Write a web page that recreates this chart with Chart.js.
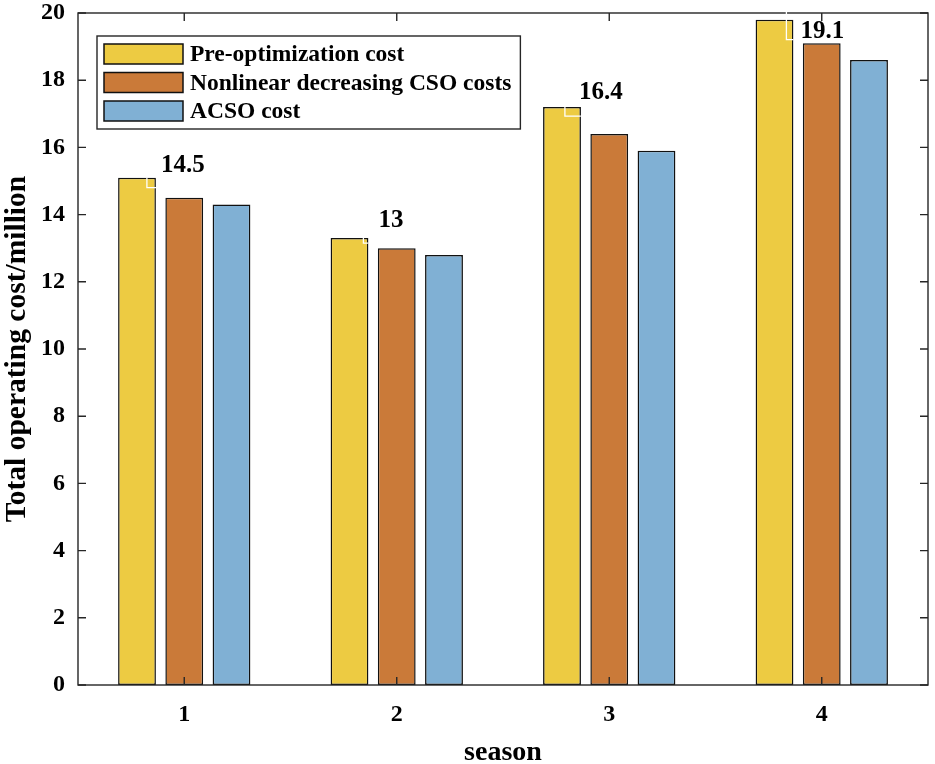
<!DOCTYPE html>
<html>
<head>
<meta charset="utf-8">
<script src="https://cdn.jsdelivr.net/npm/chart.js@4.4.1/dist/chart.umd.min.js"></script>
<style>
  html, body { margin: 0; padding: 0; background: #ffffff; }
  #wrap { width: 935px; height: 764px; position: relative; }
</style>
</head>
<body>
<div id="wrap"><canvas id="c" width="935" height="764"></canvas></div>
<script>
// ---- data ----
const categories = ['1', '2', '3', '4'];
const seriesNames = ['Pre-optimization cost', 'Nonlinear decreasing CSO costs', 'ACSO cost'];
const preCost  = [15.1, 13.3, 17.2, 19.8];
const nldCost  = [14.5, 13.0, 16.4, 19.1];
const acsoCost = [14.3, 12.8, 15.9, 18.6];
const tipLabels = ['14.5', '13', '16.4', '19.1'];
const yMin = 0, yMax = 20, yStep = 2;

// ---- style ----
const FONT = '"Liberation Serif", "Times New Roman", serif';
const colors = ['#EDCB42', '#CA7A39', '#80B0D4'];
const axisColor = '#262626';

const framePlugin = {
  id: 'frame',
  afterDatasetsDraw(chart) {
    const ctx = chart.ctx;
    const a = chart.chartArea;
    const xs = chart.scales.x, ys = chart.scales.y;
    ctx.save();
    // frame
    ctx.strokeStyle = axisColor;
    ctx.lineWidth = 1.4;
    ctx.strokeRect(a.left, a.top, a.right - a.left, a.bottom - a.top);
    // inward ticks
    const tl = 8;
    ctx.beginPath();
    ys.ticks.forEach(t => {
      const y = ys.getPixelForValue(t.value);
      ctx.moveTo(a.left, y); ctx.lineTo(a.left + tl, y);
      ctx.moveTo(a.right, y); ctx.lineTo(a.right - tl, y);
    });
    categories.forEach((c, i) => {
      const x = xs.getPixelForValue(i);
      ctx.moveTo(x, a.bottom); ctx.lineTo(x, a.bottom - tl);
      ctx.moveTo(x, a.top); ctx.lineTo(x, a.top + tl);
    });
    ctx.stroke();

    // datatip markers + labels
    const meta = chart.getDatasetMeta(0);
    const marks = [
      {rx: -9, ry: 0, w: 10, h: 10, dx: 5, dy: -6},
      {rx: -5, ry: 0, w: 5, h: 5, dx: 10, dy: -11},
      {rx: -16, ry: 0, w: 16, h: 9, dx: -2, dy: -8},
      {rx: -7, ry: -8, w: 7, h: 28, dx: 7, dy: 18}
    ];
    ctx.font = 'bold 25px ' + FONT;
    ctx.textBaseline = 'alphabetic';
    ctx.textAlign = 'left';
    meta.data.forEach((bar, i) => {
      const p = bar.getProps(['x', 'y', 'width'], true);
      const xr = p.x + p.width / 2;
      const yt = p.y;
      const m = marks[i];
      ctx.strokeStyle = '#ffffff';
      ctx.lineWidth = 1.3;
      ctx.beginPath();
      ctx.moveTo(xr + m.rx, yt + m.ry);
      ctx.lineTo(xr + m.rx, yt + m.ry + m.h);
      ctx.lineTo(xr + m.rx + m.w, yt + m.ry + m.h);
      ctx.stroke();
      ctx.fillStyle = '#000000';
      ctx.fillText(tipLabels[i], xr + m.dx, yt + m.dy);
    });

    // legend
    ctx.font = 'bold 23.5px ' + FONT;
    let maxW = 0;
    seriesNames.forEach(n => { maxW = Math.max(maxW, ctx.measureText(n).width); });
    const lx = 97, ly = 36, rowH = 28.5;
    const lw = 190 - lx + maxW + 9, lh = 93;
    ctx.fillStyle = '#ffffff';
    ctx.fillRect(lx, ly, lw, lh);
    ctx.strokeStyle = axisColor;
    ctx.lineWidth = 1.4;
    ctx.strokeRect(lx, ly, lw, lh);
    seriesNames.forEach((n, i) => {
      const cy = ly + 18 + i * rowH;
      ctx.fillStyle = colors[i];
      ctx.fillRect(104, cy - 10, 79, 20);
      ctx.strokeStyle = '#111111';
      ctx.lineWidth = 1.5;
      ctx.strokeRect(104, cy - 10, 79, 20);
      ctx.fillStyle = '#000000';
      ctx.textBaseline = 'middle';
      ctx.fillText(n, 190, cy + 1);
    });
    ctx.restore();
  }
};

new Chart(document.getElementById('c'), {
  type: 'bar',
  data: {
    labels: categories,
    datasets: [
      {label: seriesNames[0], data: preCost,  backgroundColor: colors[0]},
      {label: seriesNames[1], data: nldCost,  backgroundColor: colors[1]},
      {label: seriesNames[2], data: acsoCost, backgroundColor: colors[2]}
    ].map(d => Object.assign(d, {
      borderColor: '#111111', borderWidth: 1.5,
      categoryPercentage: 0.667, barPercentage: 0.8, borderSkipped: false
    }))
  },
  options: {
    responsive: false,
    animation: false,
    devicePixelRatio: 1,
    layout: {padding: {top: 13, right: 7, left: 0, bottom: 0}},
    plugins: {legend: {display: false}, tooltip: {enabled: false}},
    scales: {
      x: {
        offset: true,
        grid: {display: false, drawTicks: false},
        border: {display: false},
        ticks: {color: '#000', font: {family: FONT, size: 24, weight: 'bold'}, padding: 15},
        title: {display: true, text: 'season', color: '#000',
                font: {family: FONT, size: 28, weight: 'bold', lineHeight: 1}, padding: {top: 0, bottom: -3}},
        afterFit(s) { s.height = 79; s.paddingLeft = 0; s.paddingRight = 0; }
      },
      y: {
        min: yMin, max: yMax,
        grid: {display: false, drawTicks: false},
        border: {display: false},
        ticks: {stepSize: yStep, color: '#000', font: {family: FONT, size: 24, weight: 'bold'}, padding: 13},
        title: {display: true, text: 'Total operating cost/million', color: '#000',
                font: {family: FONT, size: 29.5, weight: 'bold'}, padding: 0},
        afterFit(s) { s.width = 78; s.paddingTop = 0; s.paddingBottom = 0; }
      }
    }
  },
  plugins: [framePlugin]
});
</script>
</body>
</html>
